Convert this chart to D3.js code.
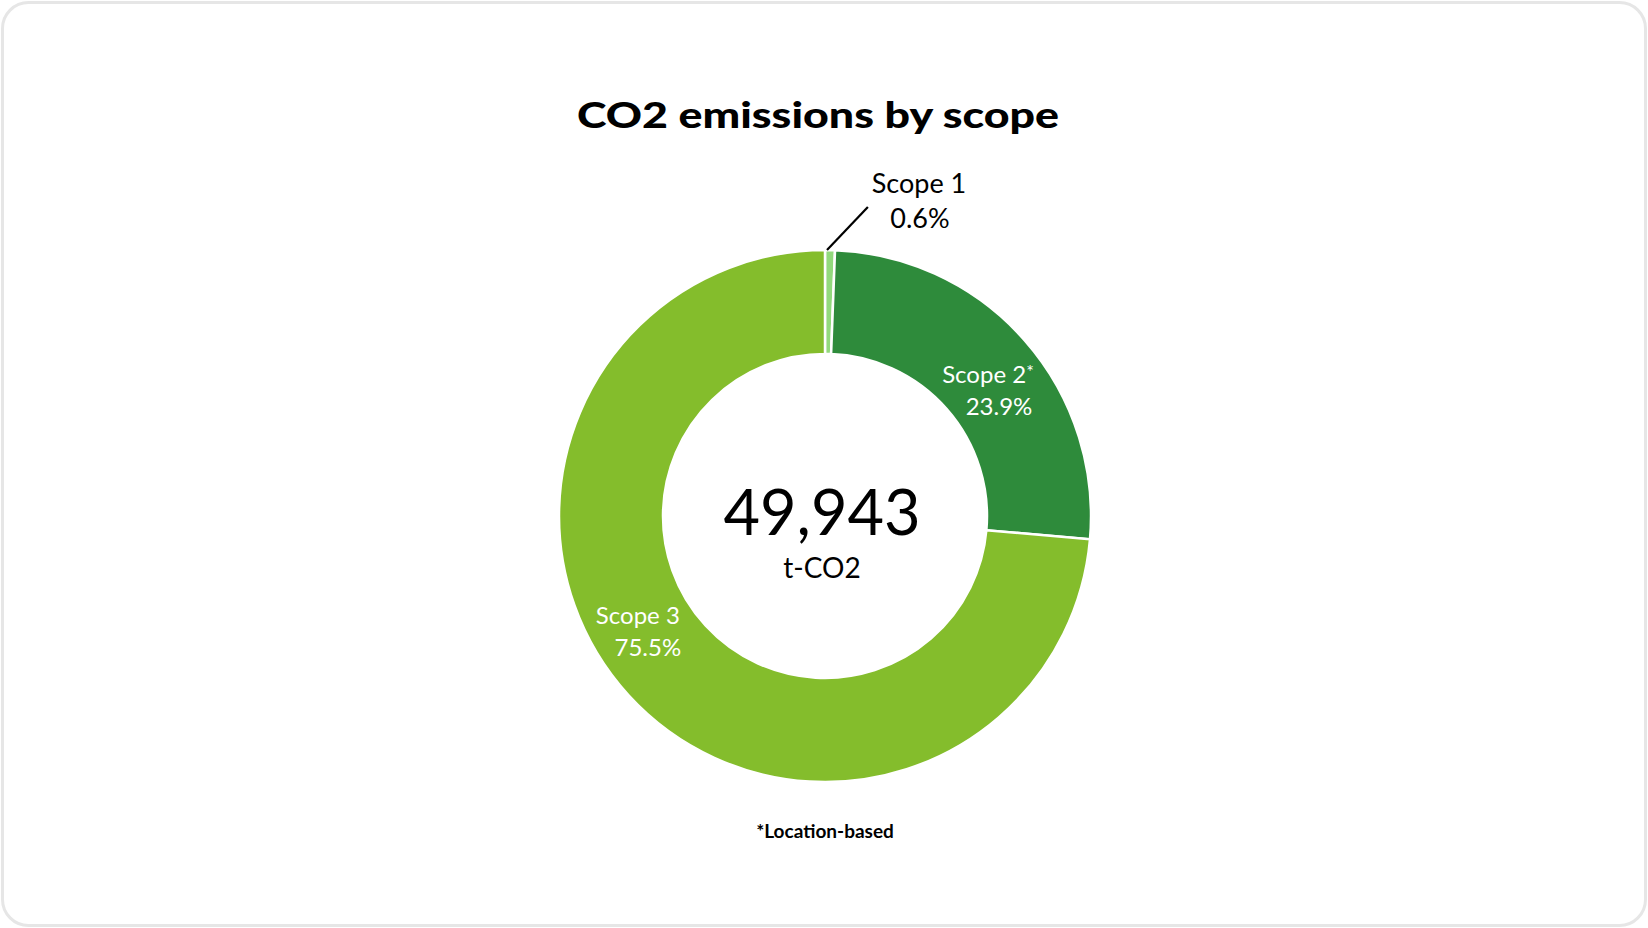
<!DOCTYPE html>
<html>
<head>
<meta charset="utf-8">
<script src="https://cdn.jsdelivr.net/npm/d3@7"></script>
<style>
  html, body { margin: 0; padding: 0; background: #fff; }
  svg { display: block; }
  text { font-family: Lato, "Noto Sans", sans-serif; }
</style>
</head>
<body>
<svg id="chart" width="1648" height="928"></svg>
<script>
// ---- data ----
const categories = ["Scope 1", "Scope 2", "Scope 3"];
// slice sizes as drawn in the picture (share of the ring, %)
const sliceValues = [0.6, 25.8, 73.6];
// percentages printed in the labels
const labelPercents = ["0.6%", "23.9%", "75.5%"];
const labelSuffix = ["", "*", ""];
const totalValue = 49943;
const totalUnit = "t-CO2";
const titleText = "CO2 emissions by scope";
const footnoteText = "*Location-based";
const colors = ["#92d97d", "#2e8b3b", "#84bd2c"];

// ---- layout ----
const W = 1648, H = 928;
const cx = 825, cy = 516;
const rOuter = 266, rInner = 162;

const svg = d3.select("#chart");

// card border
svg.append("rect")
  .attr("x", 2.5).attr("y", 2.5)
  .attr("width", W - 5).attr("height", H - 5)
  .attr("rx", 26).attr("ry", 26)
  .attr("fill", "#fff")
  .attr("stroke", "#e6e6e6")
  .attr("stroke-width", 3);

// title
svg.append("text")
  .attr("x", 818).attr("y", 128)
  .attr("text-anchor", "middle")
  .attr("font-size", 36)
  .attr("font-weight", 900)
  .attr("textLength", 482)
  .attr("lengthAdjust", "spacingAndGlyphs")
  .attr("fill", "#000")
  .text(titleText);

const data = categories.map((c, i) => ({
  name: c, value: sliceValues[i], pct: labelPercents[i], color: colors[i], suffix: labelSuffix[i]
}));

const pie = d3.pie().sort(null).value(d => d.value);
const arcs = pie(data);
const arc = d3.arc().innerRadius(rInner).outerRadius(rOuter);

const g = svg.append("g").attr("transform", `translate(${cx},${cy})`);

g.selectAll("path.slice")
  .data(arcs)
  .join("path")
  .attr("class", "slice")
  .attr("d", arc)
  .attr("fill", d => d.data.color)
  .attr("stroke", "#fff")
  .attr("stroke-width", 2.5)
  .attr("stroke-linejoin", "miter");

// label placement (layout, not data)
const polar = (ang, r) => [r * Math.sin(ang), -r * Math.cos(ang)];
const deg = Math.PI / 180;
const labelLayout = [
  { ang: 16.6 * deg, r: 329, color: "#000", size: 27, dy: 35, dx2: 1 },   // Scope 1 (outside)
  { ang: 52.3 * deg, r: 206, color: "#fff", size: 24, dy: 32, dx2: 11 },  // Scope 2
  { ang: 238.3 * deg, r: 220, color: "#fff", size: 24, dy: 32, dx2: 10 }  // Scope 3
];

arcs.forEach((a, i) => {
  const L = labelLayout[i];
  const [lx, ly] = polar(L.ang, L.r);
  const t = g.append("text")
    .attr("text-anchor", "middle")
    .attr("fill", L.color)
    .attr("font-size", L.size);
  const t1 = t.append("tspan").attr("x", lx).attr("y", ly - L.dy / 2 + L.size * 0.36);
  t1.text(a.data.name);
  if (a.data.suffix) {
    t1.append("tspan").attr("font-size", L.size * 0.75).attr("dy", -L.size * 0.18).text(a.data.suffix);
  }
  t.append("tspan").attr("x", lx + L.dx2).attr("y", ly + L.dy / 2 + L.size * 0.36)
    .text(a.data.pct);
});

// leader line for Scope 1
{
  const a = arcs[0];
  const startAng = a.startAngle + (a.endAngle - a.startAngle) * 0.2;
  const [x1, y1] = polar(startAng, rOuter);
  const [x2, y2] = polar(7.9 * deg, 312);
  g.append("line")
    .attr("x1", x1).attr("y1", y1)
    .attr("x2", x2).attr("y2", y2)
    .attr("stroke", "#000")
    .attr("stroke-width", 2.2);
}

// center total
g.append("text")
  .attr("x", -3).attr("y", 19)
  .attr("text-anchor", "middle")
  .attr("font-size", 63)
  .attr("fill", "#000")
  .text(d3.format(",")(totalValue));
g.append("text")
  .attr("x", -3).attr("y", 62)
  .attr("text-anchor", "middle")
  .attr("font-size", 28)
  .attr("fill", "#000")
  .text(totalUnit);

// footnote
svg.append("text")
  .attr("x", 825).attr("y", 838)
  .attr("text-anchor", "middle")
  .attr("font-size", 19)
  .attr("font-weight", 700)
  .attr("fill", "#000")
  .text(footnoteText);
</script>
</body>
</html>
